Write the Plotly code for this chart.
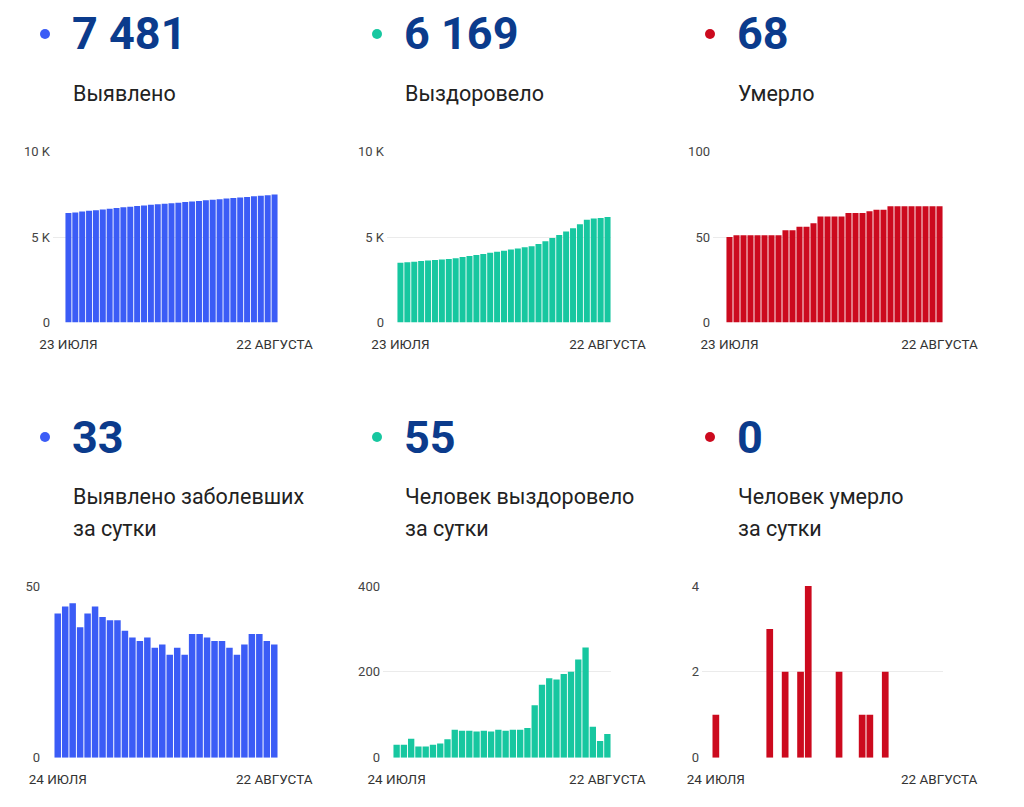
import plotly.graph_objects as go

# ---------------- data ----------------
dates_total = ["23 июля", "24 июля", "25 июля", "26 июля", "27 июля", "28 июля", "29 июля",
               "30 июля", "31 июля", "1 августа", "2 августа", "3 августа", "4 августа",
               "5 августа", "6 августа", "7 августа", "8 августа", "9 августа", "10 августа",
               "11 августа", "12 августа", "13 августа", "14 августа", "15 августа",
               "16 августа", "17 августа", "18 августа", "19 августа", "20 августа",
               "21 августа", "22 августа"]
dates_daily = dates_total[1:]

detected_total = [6398, 6440, 6484, 6529, 6567, 6609, 6653, 6694, 6734, 6774, 6811, 6846,
                  6880, 6915, 6947, 6980, 7010, 7042, 7072, 7108, 7144, 7179, 7213, 7247,
                  7279, 7309, 7342, 7378, 7414, 7448, 7481]
recovered_total = [3498, 3528, 3558, 3602, 3628, 3654, 3684, 3717, 3760, 3825, 3888, 3951,
                   4012, 4075, 4136, 4201, 4264, 4329, 4394, 4463, 4585, 4755, 4940, 5122,
                   5317, 5517, 5746, 6003, 6075, 6114, 6169]
deaths_total = [50, 51, 51, 51, 51, 51, 51, 51, 54, 54, 56, 56, 58, 62, 62, 62, 62, 64, 64,
                64, 65, 66, 66, 68, 68, 68, 68, 68, 68, 68, 68]

detected_daily = [42, 44, 45, 38, 42, 44, 41, 40, 40, 37, 35, 34, 35, 32, 33, 30, 32, 30,
                  36, 36, 35, 34, 34, 32, 30, 33, 36, 36, 34, 33]
recovered_daily = [30, 30, 44, 26, 26, 30, 33, 43, 65, 63, 63, 61, 63, 61, 65, 63, 65, 65,
                   69, 122, 170, 185, 182, 195, 200, 229, 257, 72, 39, 55]
deaths_daily = [1, 0, 0, 0, 0, 0, 0, 3, 0, 2, 0, 2, 4, 0, 0, 0, 2, 0, 0, 1, 1, 0, 2, 0, 0,
                0, 0, 0, 0, 0]

headline_values = ["7 481", "6 169", "68", "33", "55", "0"]
headline_labels = [["Выявлено"], ["Выздоровело"], ["Умерло"],
                   ["Выявлено заболевших", "за сутки"],
                   ["Человек выздоровело", "за сутки"],
                   ["Человек умерло", "за сутки"]]

top_ticks = [[0, 5000, 10000], [0, 5000, 10000], [0, 50, 100]]
top_ticktext = [["0", "5 K", "10 K"], ["0", "5 K", "10 K"], ["0", "50", "100"]]
bottom_ticks = [[0, 50], [0, 200, 400], [0, 2, 4]]
bottom_ticktext = [["0", "50"], ["0", "200", "400"], ["0", "2", "4"]]
top_xlabels = ["23 ИЮЛЯ", "22 АВГУСТА"]
bottom_xlabels = ["24 ИЮЛЯ", "22 АВГУСТА"]

# ---------------- styling ----------------
W, H = 1024, 807
BLUE = "#3b5cf6"
GREEN = "#17c7a0"
RED = "#cc0a1e"
NAVY = "#0b3b8c"
FONT = "Roboto"

def px_x(x):
    return x / W

def px_y(y):
    return 1 - y / H

fig = go.Figure()

series = [
    (dates_total, detected_total, BLUE),
    (dates_total, recovered_total, GREEN),
    (dates_total, deaths_total, RED),
    (dates_daily, detected_daily, BLUE),
    (dates_daily, recovered_daily, GREEN),
    (dates_daily, deaths_daily, RED),
]

# pixel geometry: (grid left, grid right, bar left), y top, y bottom
geom = [
    (53, 278, 65, 151.5, 322.5),
    (387, 611, 397, 151.5, 322.5),
    (713, 943, 726, 151.5, 322.5),
    (43, 278, 54, 586, 757.7),
    (383, 611, 393, 586, 757.7),
    (702, 943, 712, 586, 757.7),
]
yranges = [[0, 10000], [0, 10000], [0, 100], [0, 50], [0, 400], [0, 4]]
yticks = top_ticks + bottom_ticks
yticktext = top_ticktext + bottom_ticktext

layout_axes = {}
for i, ((cats, vals, col), (gl, gr, bl, yt, yb)) in enumerate(zip(series, geom)):
    n = len(vals)
    idx = list(range(n))
    slot = (gr - bl) / n
    left = -0.5 - (bl - gl) / slot
    suffix = "" if i == 0 else str(i + 1)
    fig.add_trace(go.Bar(
        x=idx, y=vals, marker=dict(color=col, line=dict(width=0)),
        xaxis="x" + suffix, yaxis="y" + suffix, hovertext=cats,
        showlegend=False,
    ))
    xl = top_xlabels if i < 3 else bottom_xlabels
    layout_axes["xaxis" + suffix] = dict(
        domain=[px_x(gl), px_x(gr)], range=[left, n - 0.5], anchor="y" + suffix,
        tickvals=[0, n - 1], ticktext=xl, showgrid=False, zeroline=False,
        showline=False, ticks="", ticklabelstandoff=12, automargin=False,
        tickfont=dict(family=FONT, size=13.5, color="#333333"),
        fixedrange=True,
    )
    layout_axes["yaxis" + suffix] = dict(
        domain=[px_y(yb), px_y(yt)], range=yranges[i], anchor="x" + suffix,
        tickvals=yticks[i], ticktext=yticktext[i], showgrid=True,
        gridcolor="#ebebeb", gridwidth=1, zeroline=False, showline=False,
        ticks="", ticklabelstandoff=2, automargin=False,
        tickfont=dict(family=FONT, size=13, color="#444444"),
        fixedrange=True,
    )

# headline dots, numbers and labels
col_x = [73, 405, 738]
row_num_y = [34, 437]
row_lab_y = [[94], [496, 528]]
dot_colors = [BLUE, GREEN, RED, BLUE, GREEN, RED]
annotations = []
shapes = []
for k in range(6):
    r, c = divmod(k, 3)
    x0 = col_x[c]
    cy = row_num_y[r]
    shapes.append(dict(type="circle", xref="paper", yref="paper",
                       x0=px_x(x0 - 33), x1=px_x(x0 - 23),
                       y0=px_y(cy + 5), y1=px_y(cy - 5),
                       fillcolor=dot_colors[k], line=dict(width=0)))
    annotations.append(dict(
        text=headline_values[k], xref="paper", yref="paper",
        x=px_x(x0 - 3), y=px_y(cy), xanchor="left", yanchor="middle",
        showarrow=False, font=dict(family=FONT, size=45, color=NAVY, weight=700),
    ))
    for line, ly in zip(headline_labels[k], row_lab_y[r]):
        annotations.append(dict(
            text=line, xref="paper", yref="paper",
            x=px_x(x0 - 2), y=px_y(ly), xanchor="left", yanchor="middle",
            align="left", showarrow=False,
            font=dict(family=FONT, size=21.5, color="#222222", weight=400),
        ))

fig.update_layout(
    template="none",
    width=W, height=H, margin=dict(l=0, r=0, t=0, b=0, autoexpand=False),
    paper_bgcolor="white", plot_bgcolor="white",
    bargap=0.13, annotations=annotations, shapes=shapes,
    font=dict(family=FONT),
    **layout_axes,
)

fig.write_html("out.html", post_script="document.body.style.margin='0';",
               config={"displayModeBar": False})
